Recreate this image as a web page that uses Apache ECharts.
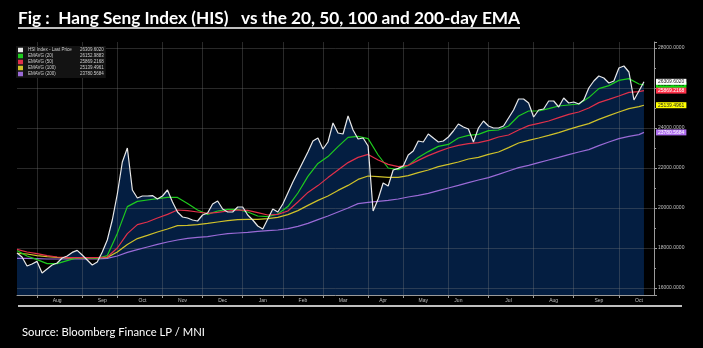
<!DOCTYPE html>
<html><head><meta charset="utf-8">
<script src="https://cdn.jsdelivr.net/npm/echarts@6/dist/echarts.min.js"></script>
<style>html,body{margin:0;padding:0;background:#000;}#c{width:703px;height:348px;}</style>
</head><body><div id="c"></div>
<script>
// ---- data (sampled ~every 2.5 trading days, mid-Jul 2024 .. mid-Oct 2025) ----
const hsi = [
17750,17550,17100,17200,17330,16750,16950,17150,17250,17500,
17600,17780,17880,17650,17400,17150,17300,17800,18400,19400,
20700,22300,23000,20900,20500,20600,20600,20620,20450,20600,
20900,20300,19800,19550,19500,19400,19350,19650,19750,20200,
20350,19950,19800,19800,20050,20050,19650,19400,19100,18950,
19450,19950,19800,20200,20750,21300,21800,22300,22800,23350,
23500,22950,23300,24250,23750,23700,24600,23900,23450,23500,
23100,19850,20450,21250,21100,21900,21980,22100,22650,22850,
23350,23300,23700,23500,23300,23350,23550,23850,24200,24050,
23950,23300,24000,24350,24100,24000,24000,24100,24500,24900,
25450,25450,25250,24550,24900,24950,25350,25350,25050,25500,
25250,25300,25200,25400,26000,26350,26600,26500,26250,26350,
27000,27100,26800,25400,25850,26309.602
];
// EMA values read at every 2nd sample (0,2,...,124) plus the last sample (125)
const ema20 = [
17870,17600,17420,17220,17220,17370,17520,17500,17480,17620,18730,20070,20330,20400,20470,20530,20530,
20220,19900,19680,19850,19930,19930,19800,19600,19570,19700,20070,20750,21580,22230,22570,23070,23530,
23580,23470,22650,22000,21920,22130,22530,22820,23080,23180,23500,23630,23680,23870,23900,24100,
24600,24850,24850,24970,25100,25150,25200,25520,25970,26120,26380,26470,26200,26152.9883
];
const ema50 = [
17930,17800,17720,17620,17550,17520,17520,17520,17520,17550,18000,18720,19170,19300,19500,19680,19900,
19870,19800,19730,19780,19850,19900,19880,19770,19650,19680,19850,20300,20780,21120,21520,21900,22270,
22530,22680,22400,22180,22070,22130,22380,22620,22820,23000,23130,23220,23270,23380,23550,23650,
23900,24120,24230,24350,24520,24680,24800,25000,25270,25430,25600,25780,25820,25869.2168
];
const ema100 = [
17730,17700,17620,17570,17530,17500,17500,17500,17500,17530,17800,18180,18470,18630,18800,18950,19120,
19130,19170,19230,19300,19370,19420,19430,19430,19470,19530,19670,19870,20130,20380,20600,20880,21130,
21430,21600,21570,21530,21530,21620,21770,21900,22070,22180,22300,22450,22530,22680,22800,23020,
23250,23380,23500,23630,23770,23930,24080,24220,24430,24620,24800,24970,25070,25139.4961
];
const ema200 = [
17480,17480,17470,17450,17450,17450,17450,17450,17450,17480,17600,17780,17920,18050,18180,18300,18400,
18480,18530,18570,18650,18720,18750,18780,18830,18870,18900,18970,19080,19230,19420,19600,19800,20000,
20220,20280,20330,20380,20450,20550,20630,20730,20870,21000,21130,21270,21400,21520,21680,21850,
22020,22130,22270,22400,22530,22670,22800,22920,23120,23300,23470,23580,23670,23780.5684
];
const seriesNames = ['HSI Index - Last Price','EMAVG (20)','EMAVG (50)','EMAVG (100)','EMAVG (200)'];
const monthTickIdx = [4,13,20,29,37,45,53,61,70,77,86,94,103,111,120];
const monthLabelIdx = [8,17,25,33,41,49,57,65,73,81,88,98,107,116,124];
const monthLabelText = ['Aug','Sep','Oct','Nov','Dec','Jan','Feb','Mar','Apr','May','Jun','Jul','Aug','Sep','Oct'];

// ---- build ----
const N = 128;
const cats = Array.from({length:N},(_,i)=>String(i));
const emaIdx = Array.from({length:63},(_,k)=>2*k).concat([125]);
const pairs = arr => emaIdx.map((k,j)=>[k, arr[j]]);
const tickSet = new Set(monthTickIdx);
const labelMap = new Map(monthLabelIdx.map((k,j)=>[k, monthLabelText[j]]));
const lastVals = [hsi[hsi.length-1], ema20[ema20.length-1], ema50[ema50.length-1], ema100[ema100.length-1], ema200[ema200.length-1]];
const colors = ['#e8e8e8','#1ecb1e','#e0304a','#cfc12a','#9a6ad6'];
const tagBg = ['#ffffff','#10e010','#ff3048','#ffff00','#b070f0'];
const tagFg = ['#222','#111','#fff','#222','#fff'];
const gridCol = 'rgba(128,128,128,0.32)';
const FF = 'Liberation Sans';

function fit(text, font, width){
  const c = document.createElement('canvas').getContext('2d');
  c.font = font; return width / c.measureText(text).width;
}
const titleText = 'Fig :  Hang Seng Index (HIS)   vs the 20, 50, 100 and 200-day EMA';
const titleFont = 'bold 17px Lato';
const srcText = 'Source: Bloomberg Finance LP / MNI';
const srcFont = '11px Lato';

function lineSeries(k, data, z){
  return {
    name: seriesNames[k], type:'line', data, z, symbol:'none', showSymbol:false,
    lineStyle:{color:colors[k], width:1.2}, itemStyle:{color:colors[k]},
    silent:true, emphasis:{disabled:true}, animation:false,
    endLabel:{show:true, distance:12,
      formatter: p => (Array.isArray(p.value)?p.value[1]:p.value).toFixed(4),
      backgroundColor: tagBg[k], color: tagFg[k], fontSize:5, fontFamily:FF,
      padding:[1,2,0,2]}
  };
}

const chart = echarts.init(document.getElementById('c'));
chart.setOption({
  backgroundColor:'#000',
  animation:false,
  grid:{left:17, right:49, top:42, bottom:53},
  legend:{
    data: seriesNames, orient:'vertical', left:16, top:46,
    itemWidth:5, itemHeight:4.5, itemGap:1, icon:'rect',
    backgroundColor:'#131313', padding:[1.5,2,1.5,2], selectedMode:false,
    formatter: name => '{n|'+name+'}{v|'+lastVals[seriesNames.indexOf(name)].toFixed(4)+'}',
    textStyle:{color:'#cfcfcf', fontSize:4.5, fontFamily:FF,
      rich:{n:{width:52, fontSize:4.5, color:'#cfcfcf', fontFamily:FF}, v:{fontSize:4.5, color:'#cfcfcf', fontFamily:FF}}}
  },
  xAxis:{
    type:'category', data:cats, boundaryGap:false, z:2,
    axisLine:{lineStyle:{color:'#9a9a9a'}},
    axisTick:{show:true, interval:(i)=>tickSet.has(i), length:3, lineStyle:{color:'#9a9a9a'}},
    axisLabel:{interval:(i)=>labelMap.has(i), formatter:(v,i)=>labelMap.get(i)||'', fontSize:5, color:'#c0c0c0', margin:3, fontFamily:FF},
    splitLine:{show:true, interval:(i)=>tickSet.has(i), lineStyle:{color:gridCol}}
  },
  yAxis:{
    type:'value', position:'right', min:15650, max:28300, splitNumber:6, z:2,
    axisLine:{show:true, lineStyle:{color:'#9a9a9a'}},
    axisTick:{show:true, length:3, lineStyle:{color:'#9a9a9a'}},
    minorTick:{show:true, splitNumber:2, length:2, lineStyle:{color:'#9a9a9a'}},
    axisLabel:{fontSize:5, color:'#c0c0c0', margin:4, fontFamily:FF,
      formatter: v => (v % 2000 === 0 ? v.toFixed(4) : '')},
    splitLine:{show:true, lineStyle:{color:['rgba(0,0,0,0)',gridCol,gridCol,gridCol,gridCol,gridCol,gridCol,gridCol,'rgba(0,0,0,0)']}}
  },
  series:[
    {type:'line', data:hsi, z:1, symbol:'none', silent:true, lineStyle:{opacity:0, width:0},
     areaStyle:{color:'#05224a', opacity:0.88}, emphasis:{disabled:true}},
    lineSeries(4, pairs(ema200), 3),
    lineSeries(3, pairs(ema100), 3),
    lineSeries(1, pairs(ema20), 3),
    lineSeries(2, pairs(ema50), 3),
    lineSeries(0, hsi, 4)
  ],
  graphic:[
    {type:'text', x:18, y:19, scaleX: fit(titleText, titleFont, 502), originX:0,
     style:{text:titleText, font:titleFont, fill:'#fff', align:'left', verticalAlign:'middle'}},
    {type:'line', shape:{x1:18, y1:28, x2:520, y2:28}, style:{stroke:'#fff', lineWidth:1.5}},
    {type:'line', shape:{x1:18, y1:306, x2:682, y2:306}, style:{stroke:'#fff', lineWidth:1.5}},
    {type:'text', x:22, y:332, scaleX: fit(srcText, srcFont, 183), originX:0,
     style:{text:srcText, font:srcFont, fill:'#fff', align:'left', verticalAlign:'middle'}}
  ]
});
</script>
</body></html>
